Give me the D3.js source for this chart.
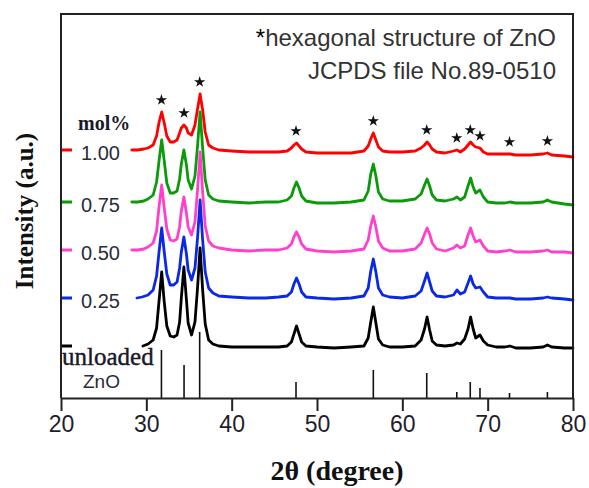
<!DOCTYPE html>
<html>
<head>
<meta charset="utf-8">
<script src="https://cdn.jsdelivr.net/npm/d3@7"></script>
<style>
  body { margin: 0; background: #fff; }
</style>
</head>
<body>
<div id="chart"></div>
<script>
// XRD patterns, 2theta (degree) / intensity (a.u., stacked as plotted)
var theta0 = [29.6, 30.2, 30.8, 31.2, 31.5, 31.8, 32.1, 32.4, 32.8, 33.2, 33.6, 33.9, 34.1, 34.4, 34.7, 34.9, 35.3, 35.7, 36.0, 36.3, 36.6, 36.9, 37.3, 37.8, 38.5, 40, 42, 44, 45.5, 46.5, 47.0, 47.3, 47.6, 47.9, 48.2, 48.7, 50, 52, 54, 55.5, 56.0, 56.3, 56.6, 56.9, 57.2, 57.7, 58.5, 60, 61.5, 62.2, 62.6, 62.9, 63.2, 63.5, 64.0, 65, 66, 66.4, 66.8, 67.3, 67.7, 68.0, 68.3, 68.6, 69.1, 69.5, 70, 71, 72, 72.6, 73.3, 75, 76.5, 77.0, 77.5, 79, 80];
var unloaded = [52, 54, 58, 70, 98, 126, 96, 72, 62, 61, 63, 76, 100, 131, 98, 75, 63, 76, 110, 150, 108, 74, 58, 54, 52, 51, 51, 51, 51, 52, 56, 64, 72, 64, 56, 52, 51, 50, 51, 52, 60, 76, 91, 75, 59, 53, 51, 51, 52, 58, 69, 81, 68, 57, 53, 52, 53, 55, 54, 59, 69, 81, 69, 60, 63, 57, 53, 51, 51, 52, 50, 50, 51, 53, 51, 50, 50];

var theta1 = [28.9, 29.5].concat(theta0.slice(1));
var mol025 = [100, 101, 103, 108, 122, 147, 170, 146, 124, 113, 113, 116, 130, 146, 161, 144, 128, 118, 130, 160, 198, 158, 126, 110, 105, 102, 101, 100, 100, 101, 102, 106, 114, 120, 114, 106, 101, 100, 99, 100, 102, 110, 127, 139, 126, 110, 103, 101, 100, 102, 107, 117, 125, 116, 107, 102, 101, 103, 108, 104, 106, 115, 122, 114, 110, 111, 106, 101, 100, 100, 100, 99, 99, 100, 101, 100, 99, 98];

var theta2 = [28.3, 29.0, 29.7].concat(theta0.slice(1));
var mol050 = [148, 148, 149, 151, 155, 167, 192, 213, 190, 169, 158, 157, 159, 171, 187, 201, 185, 171, 163, 176, 208, 246, 206, 172, 157, 152, 150, 148, 147, 148, 148, 150, 154, 161, 166, 161, 154, 149, 147, 146, 147, 149, 158, 172, 182, 171, 157, 150, 147, 147, 149, 155, 164, 170, 164, 155, 149, 147, 150, 153, 150, 152, 163, 170, 162, 156, 158, 152, 147, 146, 147, 148, 146, 146, 147, 148, 146, 146, 145];
var mol075 = [196, 196, 197, 199, 203, 216, 238, 258, 237, 215, 205, 205, 207, 219, 234, 248, 233, 218, 209, 222, 252, 286, 250, 218, 203, 199, 197, 196, 195, 196, 196, 198, 202, 210, 216, 210, 202, 197, 195, 195, 196, 198, 207, 224, 234, 222, 206, 199, 197, 197, 199, 204, 213, 219, 212, 203, 198, 197, 199, 201, 198, 201, 212, 220, 211, 205, 208, 201, 196, 195, 195, 196, 195, 195, 196, 198, 196, 194, 193];
var mol100 = [248, 248, 249, 250, 253, 262, 276, 286, 275, 262, 256, 256, 258, 265, 270, 273, 270, 265, 263, 273, 289, 304, 288, 266, 253, 250, 248, 247, 246, 246, 246, 247, 250, 253, 255, 252, 249, 246, 245, 245, 245, 247, 252, 259, 265, 258, 251, 247, 246, 246, 247, 250, 253, 256, 253, 249, 246, 245, 247, 248, 246, 249, 253, 256, 253, 251, 250, 246, 244, 244, 244, 244, 243, 243, 244, 245, 243, 242, 241];

var legendLabels = ["1.00", "0.75", "0.50", "0.25"];

// JCPDS 89-0510 reference lines
var refTheta = [31.77, 34.42, 36.25, 47.54, 56.6, 62.86, 66.38, 67.96, 69.1, 72.56, 77.0];
var refInt = [48, 33, 66, 16, 28, 25, 6, 16, 10, 5, 6];

var xTicks = [20, 30, 40, 50, 60, 70, 80];

var width = 589, height = 488;
var margin = {top: 14, right: 16, bottom: 90, left: 61};

var series = [
  {name: "unloaded", theta: theta0, values: unloaded, color: "#000000"},
  {name: "1.00", theta: theta2, values: mol100, color: "#ff0000"},
  {name: "0.75", theta: theta2, values: mol075, color: "#0a9a0a"},
  {name: "0.50", theta: theta2, values: mol050, color: "#ff40cc"},
  {name: "0.25", theta: theta1, values: mol025, color: "#0a28e6"}
];

var svg = d3.select("#chart").append("svg")
    .attr("width", width)
    .attr("height", height);

var x = d3.scaleLinear()
    .domain([20, 80])
    .range([margin.left, width - margin.right]);

var y = d3.scaleLinear()
    .domain([0, 384])
    .range([height - margin.bottom, margin.top]);

var line = d3.line()
    .x(function(d) { return x(d[0]); })
    .y(function(d) { return y(d[1]); });

// reference sticks
svg.append("g")
    .selectAll("line")
    .data(refTheta)
    .enter().append("line")
    .attr("x1", function(d) { return x(d); })
    .attr("x2", function(d) { return x(d); })
    .attr("y1", y(0))
    .attr("y2", function(d, i) { return y(refInt[i]); })
    .attr("stroke", "#111")
    .attr("stroke-width", 1.6);

// patterns
series.forEach(function(s) {
  var pts = s.theta.map(function(t, i) { return [t, s.values[i]]; });
  svg.append("path")
      .datum(pts)
      .attr("fill", "none")
      .attr("stroke", s.color)
      .attr("stroke-width", 2.8)
      .attr("stroke-linejoin", "round")
      .attr("stroke-linecap", "round")
      .attr("d", line);
});

// stars above the 1.00 pattern peaks
svg.append("g")
    .selectAll("path")
    .data(refTheta)
    .enter().append("path")
    .attr("d", d3.symbol().type(d3.symbolStar).size(40))
    .attr("fill", "#111")
    .attr("transform", function(d) {
      var top = d3.max(theta2.map(function(t, i) { return Math.abs(t - d) < 0.4 ? mol100[i] : 0; }));
      return "translate(" + x(d) + "," + (y(top) - 12) + ")";
    });

// legend dashes and labels
var legendSeries = series.slice(1);
svg.append("g")
    .selectAll("line")
    .data(series)
    .enter().append("line")
    .attr("x1", margin.left)
    .attr("x2", margin.left + 11)
    .attr("y1", function(d) { return y(d.values[0]); })
    .attr("y2", function(d) { return y(d.values[0]); })
    .attr("stroke", function(d) { return d.color; })
    .attr("stroke-width", 3);

svg.append("g")
    .selectAll("text")
    .data(legendLabels)
    .enter().append("text")
    .attr("x", 81)
    .attr("y", function(d, i) { return y(legendSeries[i].values[0]) + 10; })
    .style("font-family", "Liberation Sans, Arial, sans-serif")
    .style("font-size", "20px")
    .attr("fill", "#2b2b38")
    .text(function(d) { return d; });

svg.append("text")
    .attr("x", 78)
    .attr("y", 130)
    .style("font-family", "Liberation Serif, Times New Roman, serif")
    .style("font-weight", "bold")
    .style("font-size", "20px")
    .attr("fill", "#1a1a2a")
    .text("mol%");

svg.append("text")
    .attr("x", 62)
    .attr("y", 365)
    .style("font-family", "Liberation Serif, Times New Roman, serif")
    .style("font-size", "25px")
    .attr("fill", "#1a1a2a")
    .attr("stroke", "#1a1a2a")
    .attr("stroke-width", 0.4)
    .text("unloaded");

svg.append("text")
    .attr("x", 83)
    .attr("y", 388)
    .style("font-family", "Liberation Sans, Arial, sans-serif")
    .style("font-size", "19px")
    .attr("fill", "#2b2b38")
    .text("ZnO");

// note in the top right
var note = svg.append("g")
    .style("font-family", "Liberation Sans, Arial, sans-serif")
    .style("font-size", "24px")
    .attr("fill", "#333")
    .attr("text-anchor", "end");
var l1 = note.append("text").attr("x", 556).attr("y", 46);
l1.append("tspan").attr("fill", "#000").text("*");
l1.append("tspan").text("hexagonal structure of ZnO");
note.append("text").attr("x", 556).attr("y", 79).text("JCPDS file No.89-0510");

// frame
svg.append("path")
    .attr("d", "M" + x(20) + "," + y(0) + "V" + y(384) + "H" + x(80) + "V" + y(0))
    .attr("fill", "none")
    .attr("stroke", "#222")
    .attr("stroke-width", 2);

var xAxis = svg.append("g")
    .attr("transform", "translate(0," + y(0) + ")")
    .call(d3.axisBottom(x).tickValues(xTicks).tickSize(13).tickSizeOuter(0).tickPadding(5));
xAxis.select(".domain").attr("stroke", "#222").attr("stroke-width", 2);
xAxis.selectAll(".tick line").attr("stroke", "#222").attr("stroke-width", 2);
xAxis.selectAll("text")
    .style("font-family", "Liberation Sans, Arial, sans-serif")
    .style("font-size", "23px")
    .attr("fill", "#1e1e2a");

svg.append("text")
    .attr("x", 337)
    .attr("y", 480)
    .attr("text-anchor", "middle")
    .style("font-family", "Liberation Serif, Times New Roman, serif")
    .style("font-weight", "bold")
    .style("font-size", "28px")
    .attr("fill", "#111")
    .text("2\u03b8 (degree)");

svg.append("text")
    .attr("transform", "translate(33,211) rotate(-90)")
    .attr("text-anchor", "middle")
    .style("font-family", "Liberation Serif, Times New Roman, serif")
    .style("font-weight", "bold")
    .style("font-size", "25px")
    .attr("fill", "#111")
    .text("Intensity (a.u.)");
</script>
</body>
</html>
